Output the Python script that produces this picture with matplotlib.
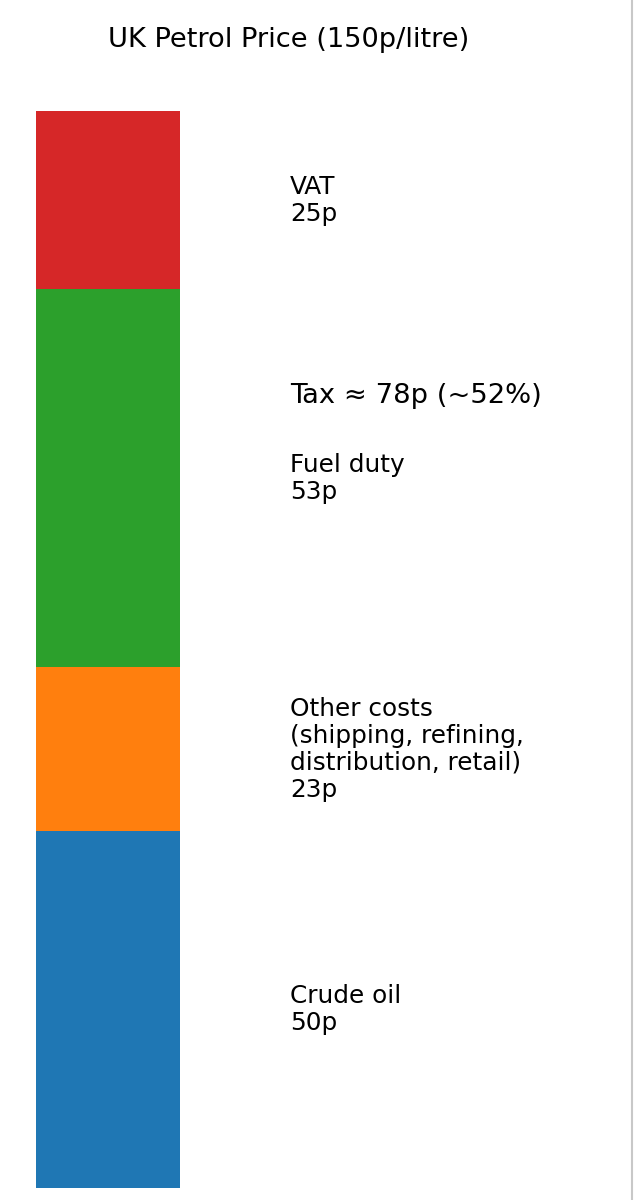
import matplotlib
matplotlib.use("Agg")
import matplotlib.pyplot as plt
from matplotlib.lines import Line2D

# components of a litre of petrol, bottom to top (pence)
labels = ["Crude oil", "Other costs\n(shipping, refining,\ndistribution, retail)", "Fuel duty", "VAT"]
values = [50, 23, 53, 25]
colors = ["#1f77b4", "#ff7f0e", "#2ca02c", "#d62728"]
tax_note = "Tax \u2248 78p (~52%)"
tax_y = 111

fig = plt.figure(figsize=(6.36, 12), dpi=100)
ax = fig.add_axes([36 / 636, 12 / 1200, 600 / 636, 1077 / 1200])

bottom = 0
for lab, v, c in zip(labels, values, colors):
    ax.bar(0, v, width=0.24, bottom=bottom, color=c, align="edge")
    ax.text(0.4233, bottom + v / 2, f"{lab}\n{v}p", va="center", ha="left",
            fontsize=17.8, linespacing=1.16)
    bottom += v

ax.text(0.4233, tax_y, tax_note, va="center", ha="left", fontsize=19.7)

ax.set_xlim(0, 1)
ax.set_ylim(0, sum(values))
ax.axis("off")

fig.text(289 / 636, 1 - 40 / 1200, "UK Petrol Price (150p/litre)", ha="center", va="center", fontsize=19.6)
fig.add_artist(Line2D([632 / 636, 632 / 636], [0, 1], color="#c8c8c8", lw=1.5, transform=fig.transFigure))

fig.savefig("out.png", dpi=100)
